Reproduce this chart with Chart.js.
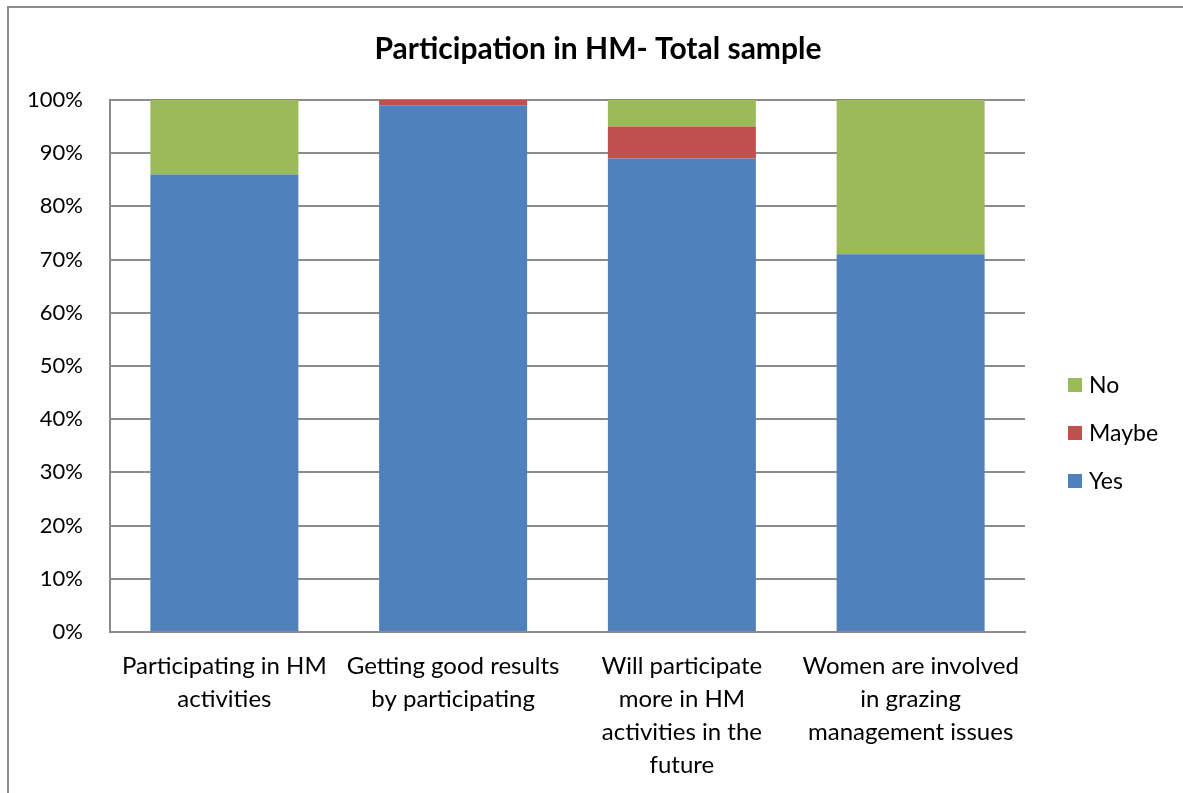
<!DOCTYPE html>
<html>
<head>
<meta charset="utf-8">
<script src="https://cdn.jsdelivr.net/npm/chart.js@4.4.1/dist/chart.umd.min.js"></script>
<style>
  html, body { margin: 0; padding: 0; background: #fff; }
  #wrap { position: relative; width: 1183px; height: 793px; overflow: hidden; }
  #frame { position: absolute; left: 7px; top: 6px; width: 1300px; height: 900px;
           border-left: 2px solid #8c8c8c; border-top: 2px solid #8c8c8c; }
  canvas { position: absolute; left: 0; top: 0; }
</style>
</head>
<body>
<div id="wrap">
  <div id="frame"></div>
  <canvas id="chart" width="1183" height="793"></canvas>
</div>
<script>
// chart data
const chartTitle = "Participation in HM- Total sample";
const categories = [
  ["Participating in HM", "activities"],
  ["Getting good results", "by participating"],
  ["Will participate", "more in HM", "activities in the", "future"],
  ["Women are involved", "in grazing", "management issues"]
];
const yesValues = [86, 99, 89, 71];
const maybeValues = [0, 1, 6, 0];
const noValues = [14, 0, 5, 29];
const yTicks = [0, 10, 20, 30, 40, 50, 60, 70, 80, 90, 100];

const FONT = "Lato, 'Open Sans', sans-serif";

// title + legend drawn by hand so they sit where Excel put them
const excelDecor = {
  id: "excelDecor",
  afterDraw(chart) {
    const ctx = chart.ctx;
    ctx.save();
    ctx.fillStyle = "#000";
    ctx.textAlign = "center";
    ctx.textBaseline = "middle";
    ctx.font = "bold 30px " + FONT;
    ctx.fillText(chartTitle, 598, 49);

    const sets = chart.data.datasets.slice().reverse();
    ctx.textAlign = "left";
    ctx.font = "23px " + FONT;
    sets.forEach(function(ds, i) {
      const y = 385 + i * 48;
      ctx.fillStyle = ds.backgroundColor;
      ctx.fillRect(1068, y - 7, 14, 14);
      ctx.fillStyle = "#000";
      ctx.fillText(ds.label, 1089, y + 1);
    });
    ctx.restore();
  }
};

new Chart(document.getElementById("chart"), {
  type: "bar",
  data: {
    labels: categories,
    datasets: [
      { label: "Yes", data: yesValues, backgroundColor: "#4F81BD" },
      { label: "Maybe", data: maybeValues, backgroundColor: "#C0504D" },
      { label: "No", data: noValues, backgroundColor: "#9BBB59" }
    ]
  },
  options: {
    responsive: false,
    animation: false,
    layout: { padding: { left: 0, right: 158, top: 100, bottom: 0 } },
    plugins: {
      legend: { display: false },
      tooltip: { enabled: false },
      title: { display: false }
    },
    datasets: {
      bar: { categoryPercentage: 1, barPercentage: 0.647 }
    },
    scales: {
      x: {
        stacked: true,
        grid: { display: false, drawTicks: false },
        border: { color: "#8c8c8c", width: 2 },
        ticks: {
          color: "#000",
          maxRotation: 0,
          autoSkip: false,
          padding: 18,
          font: { family: FONT, size: 24, lineHeight: 1.375 }
        },
        afterFit(axis) { axis.height = 161; }
      },
      y: {
        stacked: true,
        min: 0,
        max: 100,
        afterBuildTicks(axis) { axis.ticks = yTicks.map(v => ({ value: v })); },
        grid: { color: "#8c8c8c", lineWidth: 2, drawTicks: false },
        border: { color: "#8c8c8c", width: 2 },
        ticks: {
          color: "#000",
          padding: 27,
          font: { family: FONT, size: 22 },
          callback: v => v + "%"
        },
        afterFit(axis) { axis.width = 110; }
      }
    }
  },
  plugins: [excelDecor]
});
</script>
</body>
</html>
